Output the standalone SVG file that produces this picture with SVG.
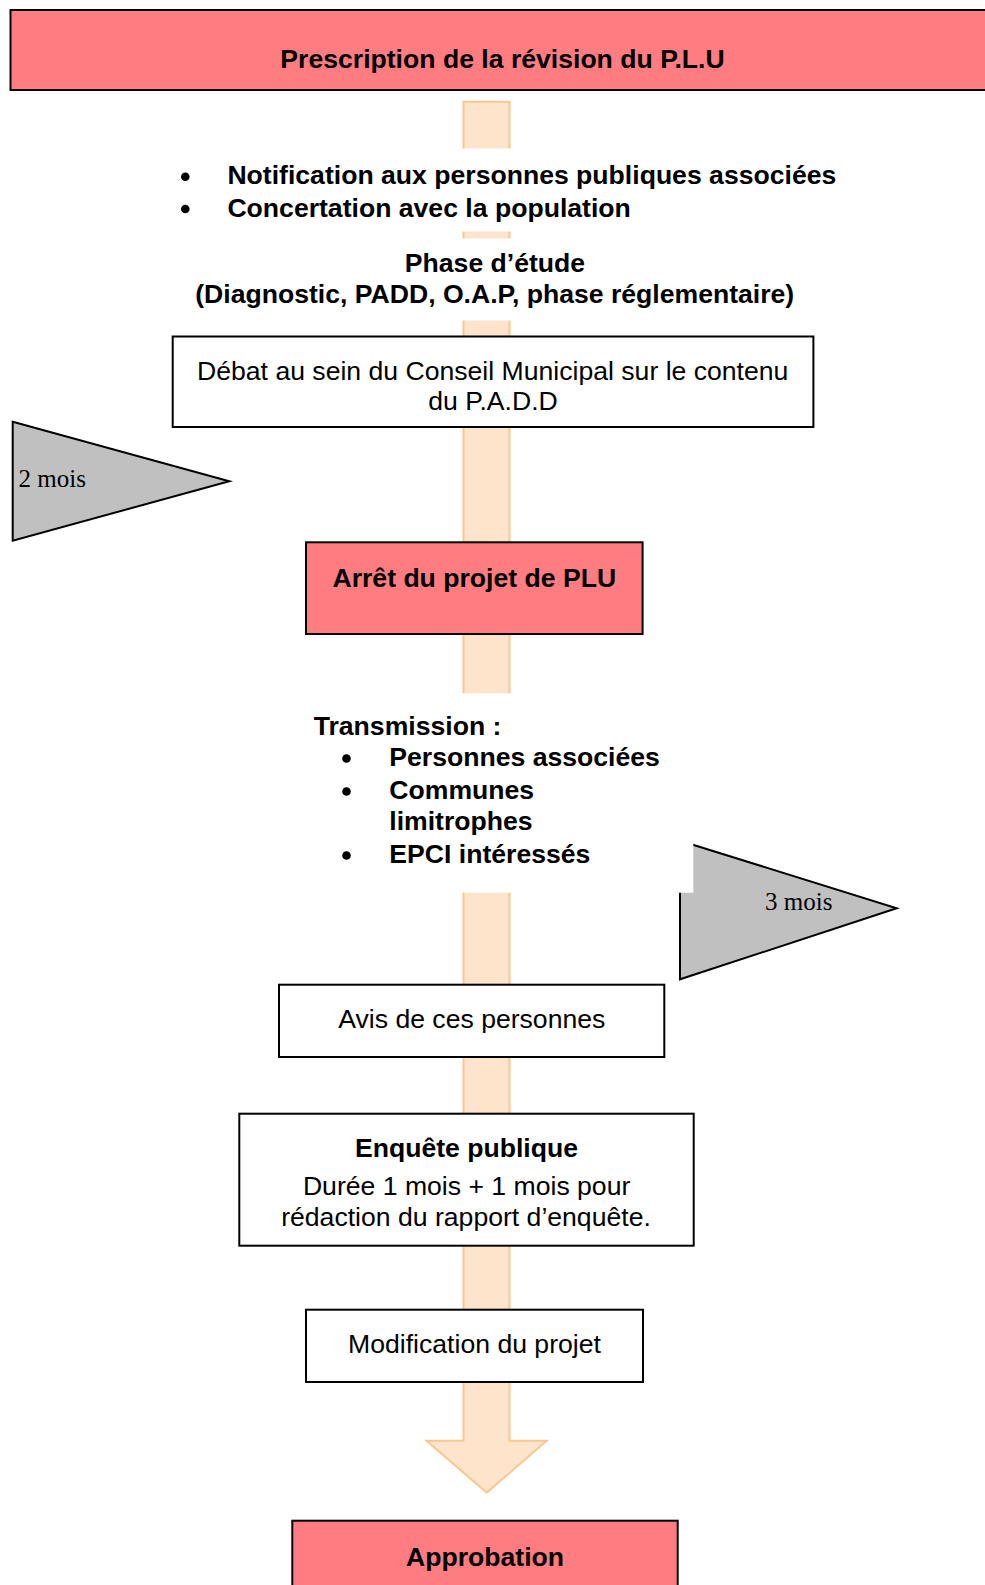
<svg xmlns="http://www.w3.org/2000/svg" width="985" height="1585" viewBox="0 0 985 1585">
<style>
.box{stroke:#000;stroke-width:2}
.red{fill:#FF7C80}
.white{fill:#FFFFFF}
.mask{fill:#FFFFFF;stroke:none}
.tri{fill:#C0C0C0;stroke:#000;stroke-width:2;stroke-linejoin:miter}
.b{font-family:"Liberation Sans",Arial,sans-serif;font-weight:bold;font-size:26.6px;fill:#000}
.r{font-family:"Liberation Sans",Arial,sans-serif;font-size:26.6px;fill:#000}
.s{font-family:"Liberation Serif","Times New Roman",serif;font-size:25px;fill:#000}
.c{text-anchor:middle}
.bar{fill:#FEE4CB;stroke:#FBC690;stroke-width:2}
</style>
<g id="connectors">
<polygon class="bar" points="463.5,101.7 509.5,101.7 509.5,1440.7 546.7,1440.7 486.7,1492.7 426.5,1440.7 463.5,1440.7"/>
</g>
<g id="prescription">
<rect class="box red" x="10.5" y="10" width="990" height="80"/>
<text class="b c" x="502.5" y="67.5">Prescription de la révision du P.L.U</text>
</g>
<g id="notification">
<rect class="mask" x="170" y="148.5" width="680" height="83"/>
<circle cx="185.3" cy="176.7" r="4.3"/>
<circle cx="185.3" cy="209" r="4.3"/>
<text class="b" x="227.4" y="184">Notification aux personnes publiques associées</text>
<text class="b" x="227.4" y="216.5">Concertation avec la population</text>
</g>
<g id="phase">
<rect class="mask" x="180" y="238.5" width="630" height="82"/>
<text class="b c" x="495" y="271.5">Phase d’étude</text>
<text class="b c" x="494.7" y="303">(Diagnostic, PADD, O.A.P, phase réglementaire)</text>
</g>
<g id="debat">
<rect class="box white" x="172.7" y="336.5" width="640.7" height="90.5"/>
<text class="r c" x="492.7" y="380">Débat au sein du Conseil Municipal sur le contenu</text>
<text class="r c" x="493" y="410.3">du P.A.D.D</text>
</g>
<g id="delai-2-mois">
<polygon class="tri" points="12.7,421.7 229.3,481.2 12.7,540.7"/>
<text class="s" x="18.5" y="486.7">2 mois</text>
</g>
<g id="arret">
<rect class="box red" x="306" y="542.3" width="336.6" height="91.7"/>
<text class="b c" x="474.3" y="586.5">Arrêt du projet de PLU</text>
</g>
<g id="delai-3-mois">
<polygon class="tri" points="680,840.7 896.7,908.3 680,979.3"/>
<text class="s" x="765" y="910">3 mois</text>
</g>
<g id="transmission">
<rect class="mask" x="300" y="693.3" width="393.3" height="199.4"/>
<text class="b" x="313.7" y="734.5">Transmission :</text>
<circle cx="346.5" cy="758.5" r="4.3"/>
<circle cx="346.5" cy="791.5" r="4.3"/>
<circle cx="346.5" cy="855.5" r="4.3"/>
<text class="b" x="389.3" y="766">Personnes associées</text>
<text class="b" x="389.3" y="799">Communes</text>
<text class="b" x="389.3" y="830">limitrophes</text>
<text class="b" x="389.3" y="863">EPCI intéressés</text>
</g>
<g id="avis">
<rect class="box white" x="279" y="984.7" width="385.3" height="72.3"/>
<text class="r c" x="471.8" y="1028.3">Avis de ces personnes</text>
</g>
<g id="enquete">
<rect class="box white" x="239.3" y="1113.7" width="454.4" height="132"/>
<text class="b c" x="466.5" y="1156.7">Enquête publique</text>
<text class="r c" x="466.6" y="1195">Durée 1 mois + 1 mois pour</text>
<text class="r c" x="466" y="1226">rédaction du rapport d’enquête.</text>
</g>
<g id="modification">
<rect class="box white" x="306" y="1309.7" width="337" height="72.3"/>
<text class="r c" x="474.5" y="1353.3">Modification du projet</text>
</g>
<g id="approbation">
<rect class="box red" x="292.3" y="1520.7" width="385.4" height="80"/>
<text class="b c" x="485" y="1565.7">Approbation</text>
</g>
</svg>
